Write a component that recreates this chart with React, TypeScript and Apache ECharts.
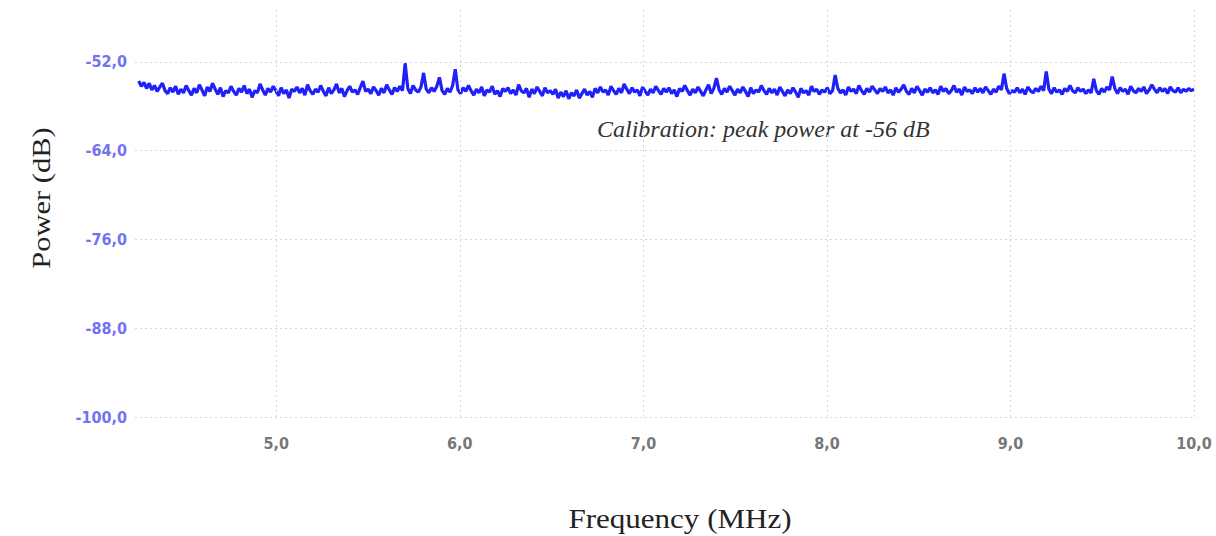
import React, { useEffect, useRef } from "react";
import * as echarts from "echarts";

const freqStart = 4.25;
const freqEnd = 10.0;
const xTicks = [5, 6, 7, 8, 9, 10];
const yTicks = [-100, -88, -76, -64, -52];

const powerDb = [
  -54.6, -55.3, -54.8, -55.6, -54.9, -55.8, -55.2, -56.0, -55.4, -54.9, -55.9, -56.3, -55.5, -56.1, -55.3, -56.4, -55.7, -56.2, -55.2, -55.9,
  -56.5, -55.6, -56.2, -55.1, -55.8, -56.6, -55.4, -56.0, -54.9, -55.7, -56.4, -55.5, -56.7, -55.9, -56.2, -55.3, -56.0, -56.5, -55.6, -56.1,
  -55.2, -56.3, -55.7, -56.8, -55.9, -56.2, -55.0, -55.8, -56.5, -55.6, -56.1, -55.3, -55.9, -56.6, -55.5, -56.3, -55.8, -56.9, -55.7, -56.0,
  -55.4, -56.2, -55.6, -56.5, -55.1, -55.9, -56.4, -55.7, -56.1, -55.2, -56.0, -56.6, -55.5, -56.3, -55.8, -55.0, -56.2, -55.6, -56.7, -55.9,
  -55.3, -56.1, -55.8, -56.4, -55.5, -54.6, -56.0, -55.7, -56.3, -55.4, -55.9, -56.5, -55.6, -56.2, -55.1, -55.8, -56.4, -55.5, -56.0, -55.3,
  -55.9, -52.2, -55.6, -56.3, -55.2, -55.8, -56.1, -55.4, -53.5, -55.7, -56.2, -55.5, -56.0, -55.3, -54.1, -55.9, -56.4, -55.6, -56.1, -55.2,
  -53.0, -55.8, -56.3, -55.5, -56.0, -55.2, -55.9, -56.5, -55.7, -56.2, -55.4, -56.6, -55.8, -56.1, -55.3, -56.4, -55.9, -56.7, -55.6, -56.0,
  -55.5, -56.3, -55.8, -56.5, -55.1, -55.9, -56.2, -55.6, -56.8, -55.7, -56.3, -55.4, -56.0, -56.6, -55.5, -56.2, -55.9, -56.4, -55.7, -56.9,
  -56.1, -56.7, -55.9, -57.0, -56.2, -56.6, -55.8, -56.9, -56.3, -55.7, -56.5, -56.0, -56.8, -55.6, -56.2, -55.4, -56.1, -55.8, -56.5, -55.3,
  -55.9, -56.4, -55.6, -56.2, -55.0, -55.7, -56.3, -55.5, -56.1, -55.8, -56.6, -55.4, -56.0, -56.5, -55.7, -56.2, -55.3, -55.9, -56.4, -55.6,
  -56.1, -55.5, -56.3, -55.8, -56.7, -55.6, -56.0, -55.2, -55.9, -56.5, -55.7, -56.2, -55.4, -56.0, -56.6, -55.8, -55.1, -56.3, -55.6, -54.2,
  -55.8, -56.4, -55.6, -56.1, -55.3, -55.9, -56.5, -55.7, -56.2, -55.4, -56.0, -56.7, -55.5, -56.3, -55.8, -56.1, -55.2, -55.9, -56.4, -55.6,
  -56.2, -55.7, -56.5, -55.4, -56.0, -56.6, -55.8, -56.3, -55.5, -56.1, -56.8, -55.6, -56.2, -55.9, -56.5, -55.3, -56.0, -55.7, -56.4, -55.8,
  -56.1, -55.5, -56.3, -55.9, -53.8, -55.6, -56.2, -55.8, -56.5, -55.4, -56.0, -55.7, -56.3, -55.2, -55.9, -56.4, -55.6, -56.1, -55.3, -55.8,
  -56.3, -55.6, -56.0, -55.4, -56.2, -55.8, -56.5, -55.5, -56.1, -55.7, -55.1, -56.0, -56.4, -55.6, -56.2, -55.3, -55.9, -56.5, -55.7, -56.1,
  -55.5, -56.2, -55.8, -56.4, -55.3, -56.0, -55.6, -56.3, -55.9, -55.2, -56.1, -55.7, -56.5, -55.4, -56.0, -55.8, -56.3, -55.5, -56.1, -55.6,
  -56.2, -55.4, -55.9, -56.4, -55.7, -56.1, -55.3, -55.8, -53.6, -55.6, -56.3, -55.9, -56.1, -55.5, -56.2, -55.7, -56.4, -55.4, -55.9, -56.2,
  -55.6, -56.0, -55.3, -55.9, -53.3, -55.7, -56.3, -55.5, -56.1, -55.8, -56.4, -55.6, -56.0, -55.2, -55.9, -56.2, -55.5, -56.0, -55.7, -56.3,
  -55.8, -56.2, -54.3, -55.9, -56.4, -55.6, -56.1, -55.4, -55.8, -54.0, -55.6, -56.3, -55.5, -56.0, -55.7, -56.4, -55.3, -55.9, -56.2, -55.6,
  -56.0, -55.4, -56.3, -55.8, -55.1, -55.7, -56.2, -55.5, -56.0, -55.6, -56.3, -55.4, -55.9, -56.1, -55.5, -56.2, -55.7, -56.0, -55.6, -55.9,
  -55.7,
];

const fmt = (v: number) => v.toFixed(1).replace(".", ",");
const tickFont = "'DejaVu Sans Condensed', 'DejaVu Sans', sans-serif";

export default function App() {
  const ref = useRef<HTMLDivElement>(null);
  useEffect(() => {
    document.body.style.margin = "0";
    if (!ref.current) return;
    const chart = echarts.init(ref.current, undefined, { renderer: "svg" });
    const n = powerDb.length;
    const data = powerDb.map((v, i) => [
      freqStart + (i * (freqEnd - freqStart)) / (n - 1),
      v,
    ]);
    const gridStyle = { color: "#d6d6d6", type: [2, 3] as any, width: 1 };
    chart.setOption({
      animation: false,
      backgroundColor: "#ffffff",
      grid: { left: 135, right: 22, top: 10, bottom: 119 },
      xAxis: {
        type: "value",
        min: 4.23,
        max: 10,
        axisLine: { show: false },
        axisTick: { show: false },
        splitLine: { show: false },
        axisLabel: {
          customValues: xTicks,
          formatter: (v: number) => fmt(v),
          color: "#777777",
          fontFamily: tickFont,
          fontWeight: "bold",
          fontSize: 16,
          margin: 18,
        },
      },
      yAxis: {
        type: "value",
        min: -100,
        max: -45,
        axisLine: { show: false },
        axisTick: { show: false },
        splitLine: { show: false },
        axisLabel: {
          customValues: yTicks,
          formatter: (v: number) => fmt(v),
          color: "#7373f2",
          fontFamily: tickFont,
          fontWeight: "bold",
          fontSize: 16,
          margin: 8,
        },
      },
      series: [
        {
          type: "line",
          data: [],
          z: 1,
          silent: true,
          markLine: {
            silent: true,
            symbol: "none",
            label: { show: false },
            lineStyle: gridStyle,
            data: [
              ...yTicks.map((v) => ({ yAxis: v })),
              ...xTicks.map((v) => ({ xAxis: v })),
            ],
          },
        },
        {
          type: "line",
          data,
          z: 2,
          showSymbol: false,
          symbol: "none",
          clip: false,
          lineStyle: { color: "#2020f8", width: 3.2 },
        },
      ],
      graphic: [
        {
          type: "text",
          x: 597,
          y: 129,
          style: {
            text: "Calibration: peak power at -56 dB",
            font: "italic 24px 'Liberation Serif', 'DejaVu Serif', serif",
            fill: "#333333",
            align: "left",
            verticalAlign: "middle",
          },
        },
        {
          type: "text",
          x: 41,
          y: 198,
          rotation: Math.PI / 2,
          scaleX: 1.22,
          style: {
            text: "Power (dB)",
            font: "25px 'Liberation Serif', 'DejaVu Serif', serif",
            fill: "#222222",
            align: "center",
            verticalAlign: "middle",
          },
        },
        {
          type: "text",
          x: 680,
          y: 519,
          scaleX: 1.15,
          style: {
            text: "Frequency (MHz)",
            font: "27px 'Liberation Serif', 'DejaVu Serif', serif",
            fill: "#222222",
            align: "center",
            verticalAlign: "middle",
          },
        },
      ],
    });
    return () => chart.dispose();
  }, []);
  return <div ref={ref} style={{ width: 1216, height: 536 }} />;
}
